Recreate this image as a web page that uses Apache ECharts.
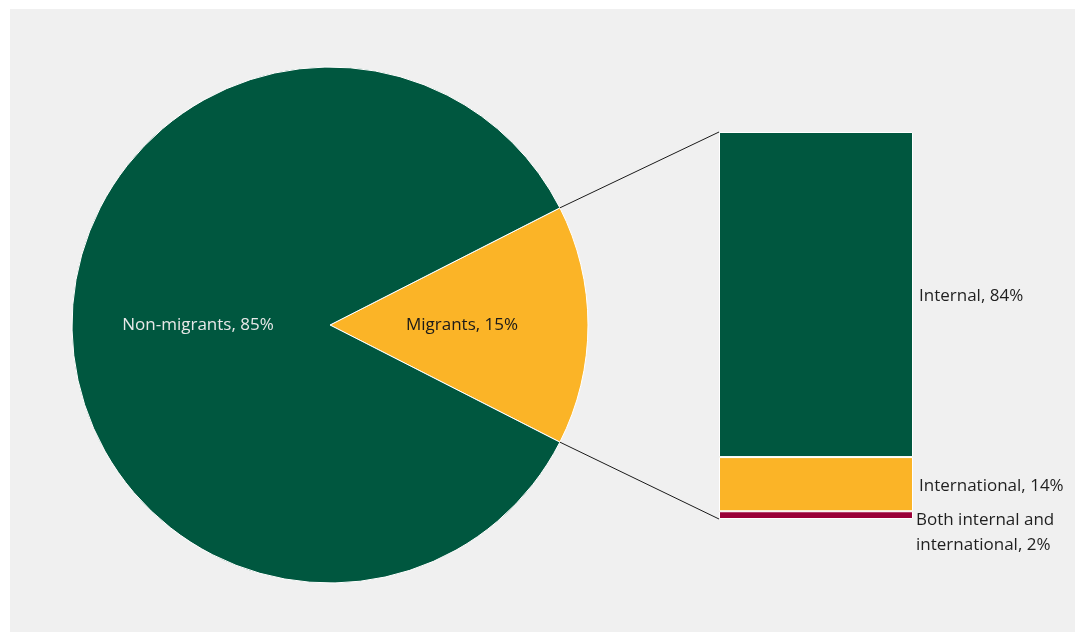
<!DOCTYPE html>
<html>
<head>
<meta charset="utf-8">
<script src="https://cdn.jsdelivr.net/npm/echarts@6/dist/echarts.min.js"></script>
<style>
  html, body { margin: 0; padding: 0; background: #ffffff; }
  #panel { position: absolute; left: 10px; top: 9px; width: 1065px; height: 623px; background: #f0f0f0; }
  #chart { position: absolute; left: 0; top: 0; width: 1075px; height: 632px; }
</style>
</head>
<body>
<div id="panel"></div>
<div id="chart"></div>
<script>
// Share of population by migration status
const pieNames = ['Migrants', 'Non-migrants'];
const pieValues = [15, 85];

// Breakdown of migrants by type (stacked bottom to top)
const migrantTypes = ['Both internal and\ninternational', 'International', 'Internal'];
const migrantShares = [2, 14, 84];

const GREEN = '#00573f';
const YELLOW = '#fbb427';
const CRIMSON = '#9b0038';
const FONT = '"Open Sans", Lato, sans-serif';
const FONT_SIZE = 17;

const pieCenter = [330, 325];
const pieRadius = 258;
const total = pieValues.reduce((a, b) => a + b, 0);
const migrantAngle = pieValues[0] / total * 360;
// Migrants slice is centred on the 3 o'clock direction
const startAngle = migrantAngle / 2;

const barColors = [CRIMSON, YELLOW, GREEN];
const barLabelOffsets = [[-3, 18], [0, 2], [0, 2]];

const chart = echarts.init(document.getElementById('chart'));

const barSeries = migrantTypes.map((name, i) => ({
  name: name,
  type: 'bar',
  stack: 'm',
  barWidth: '100%',
  data: [migrantShares[i]],
  itemStyle: { color: barColors[i], borderColor: '#ffffff', borderWidth: 1 },
  label: {
    show: true,
    position: 'right',
    distance: 6,
    offset: barLabelOffsets[i],
    color: '#1f1f1f',
    fontFamily: FONT,
    fontSize: FONT_SIZE,
    lineHeight: 25,
    align: 'left',
    formatter: () => name + ', ' + migrantShares[i] + '%'
  },
  silent: true
}));

chart.setOption({
  backgroundColor: 'transparent',
  animation: false,
  grid: { left: 719, top: 132, width: 194, height: 387 },
  xAxis: { type: 'category', data: ['Migrants'], show: false },
  yAxis: { type: 'value', min: 0, max: 100, show: false },
  series: [
    {
      type: 'pie',
      center: pieCenter,
      radius: pieRadius,
      startAngle: startAngle,
      clockwise: true,
      silent: true,
      itemStyle: { borderColor: '#ffffff', borderWidth: 1 },
      label: {
        show: true,
        position: 'inside',
        fontFamily: FONT,
        fontSize: FONT_SIZE,
        formatter: p => p.name + ', ' + p.value + '%'
      },
      labelLine: { show: false },
      data: [
        { name: pieNames[0], value: pieValues[0], itemStyle: { color: YELLOW }, label: { color: '#1a1a1a' } },
        { name: pieNames[1], value: pieValues[1], itemStyle: { color: GREEN }, label: { color: '#e8e8e8' } }
      ]
    }
  ].concat(barSeries)
});

// Connector lines from the edges of the Migrants slice to the corners of the bar
const rad = startAngle * Math.PI / 180;
const sliceTop = [pieCenter[0] + pieRadius * Math.cos(rad), pieCenter[1] - pieRadius * Math.sin(rad)];
const sliceBottom = [pieCenter[0] + pieRadius * Math.cos(rad), pieCenter[1] + pieRadius * Math.sin(rad)];
const barTop = chart.convertToPixel({ gridIndex: 0 }, [0, 100]);
const barBottom = chart.convertToPixel({ gridIndex: 0 }, [0, 0]);
const barLeft = 719;

chart.setOption({
  graphic: [
    { type: 'line', shape: { x1: sliceTop[0], y1: sliceTop[1], x2: barLeft, y2: barTop[1] }, style: { stroke: '#1a1a1a', lineWidth: 1 }, z: 10 },
    { type: 'line', shape: { x1: sliceBottom[0], y1: sliceBottom[1], x2: barLeft, y2: barBottom[1] }, style: { stroke: '#1a1a1a', lineWidth: 1 }, z: 10 }
  ]
});
</script>
</body>
</html>
